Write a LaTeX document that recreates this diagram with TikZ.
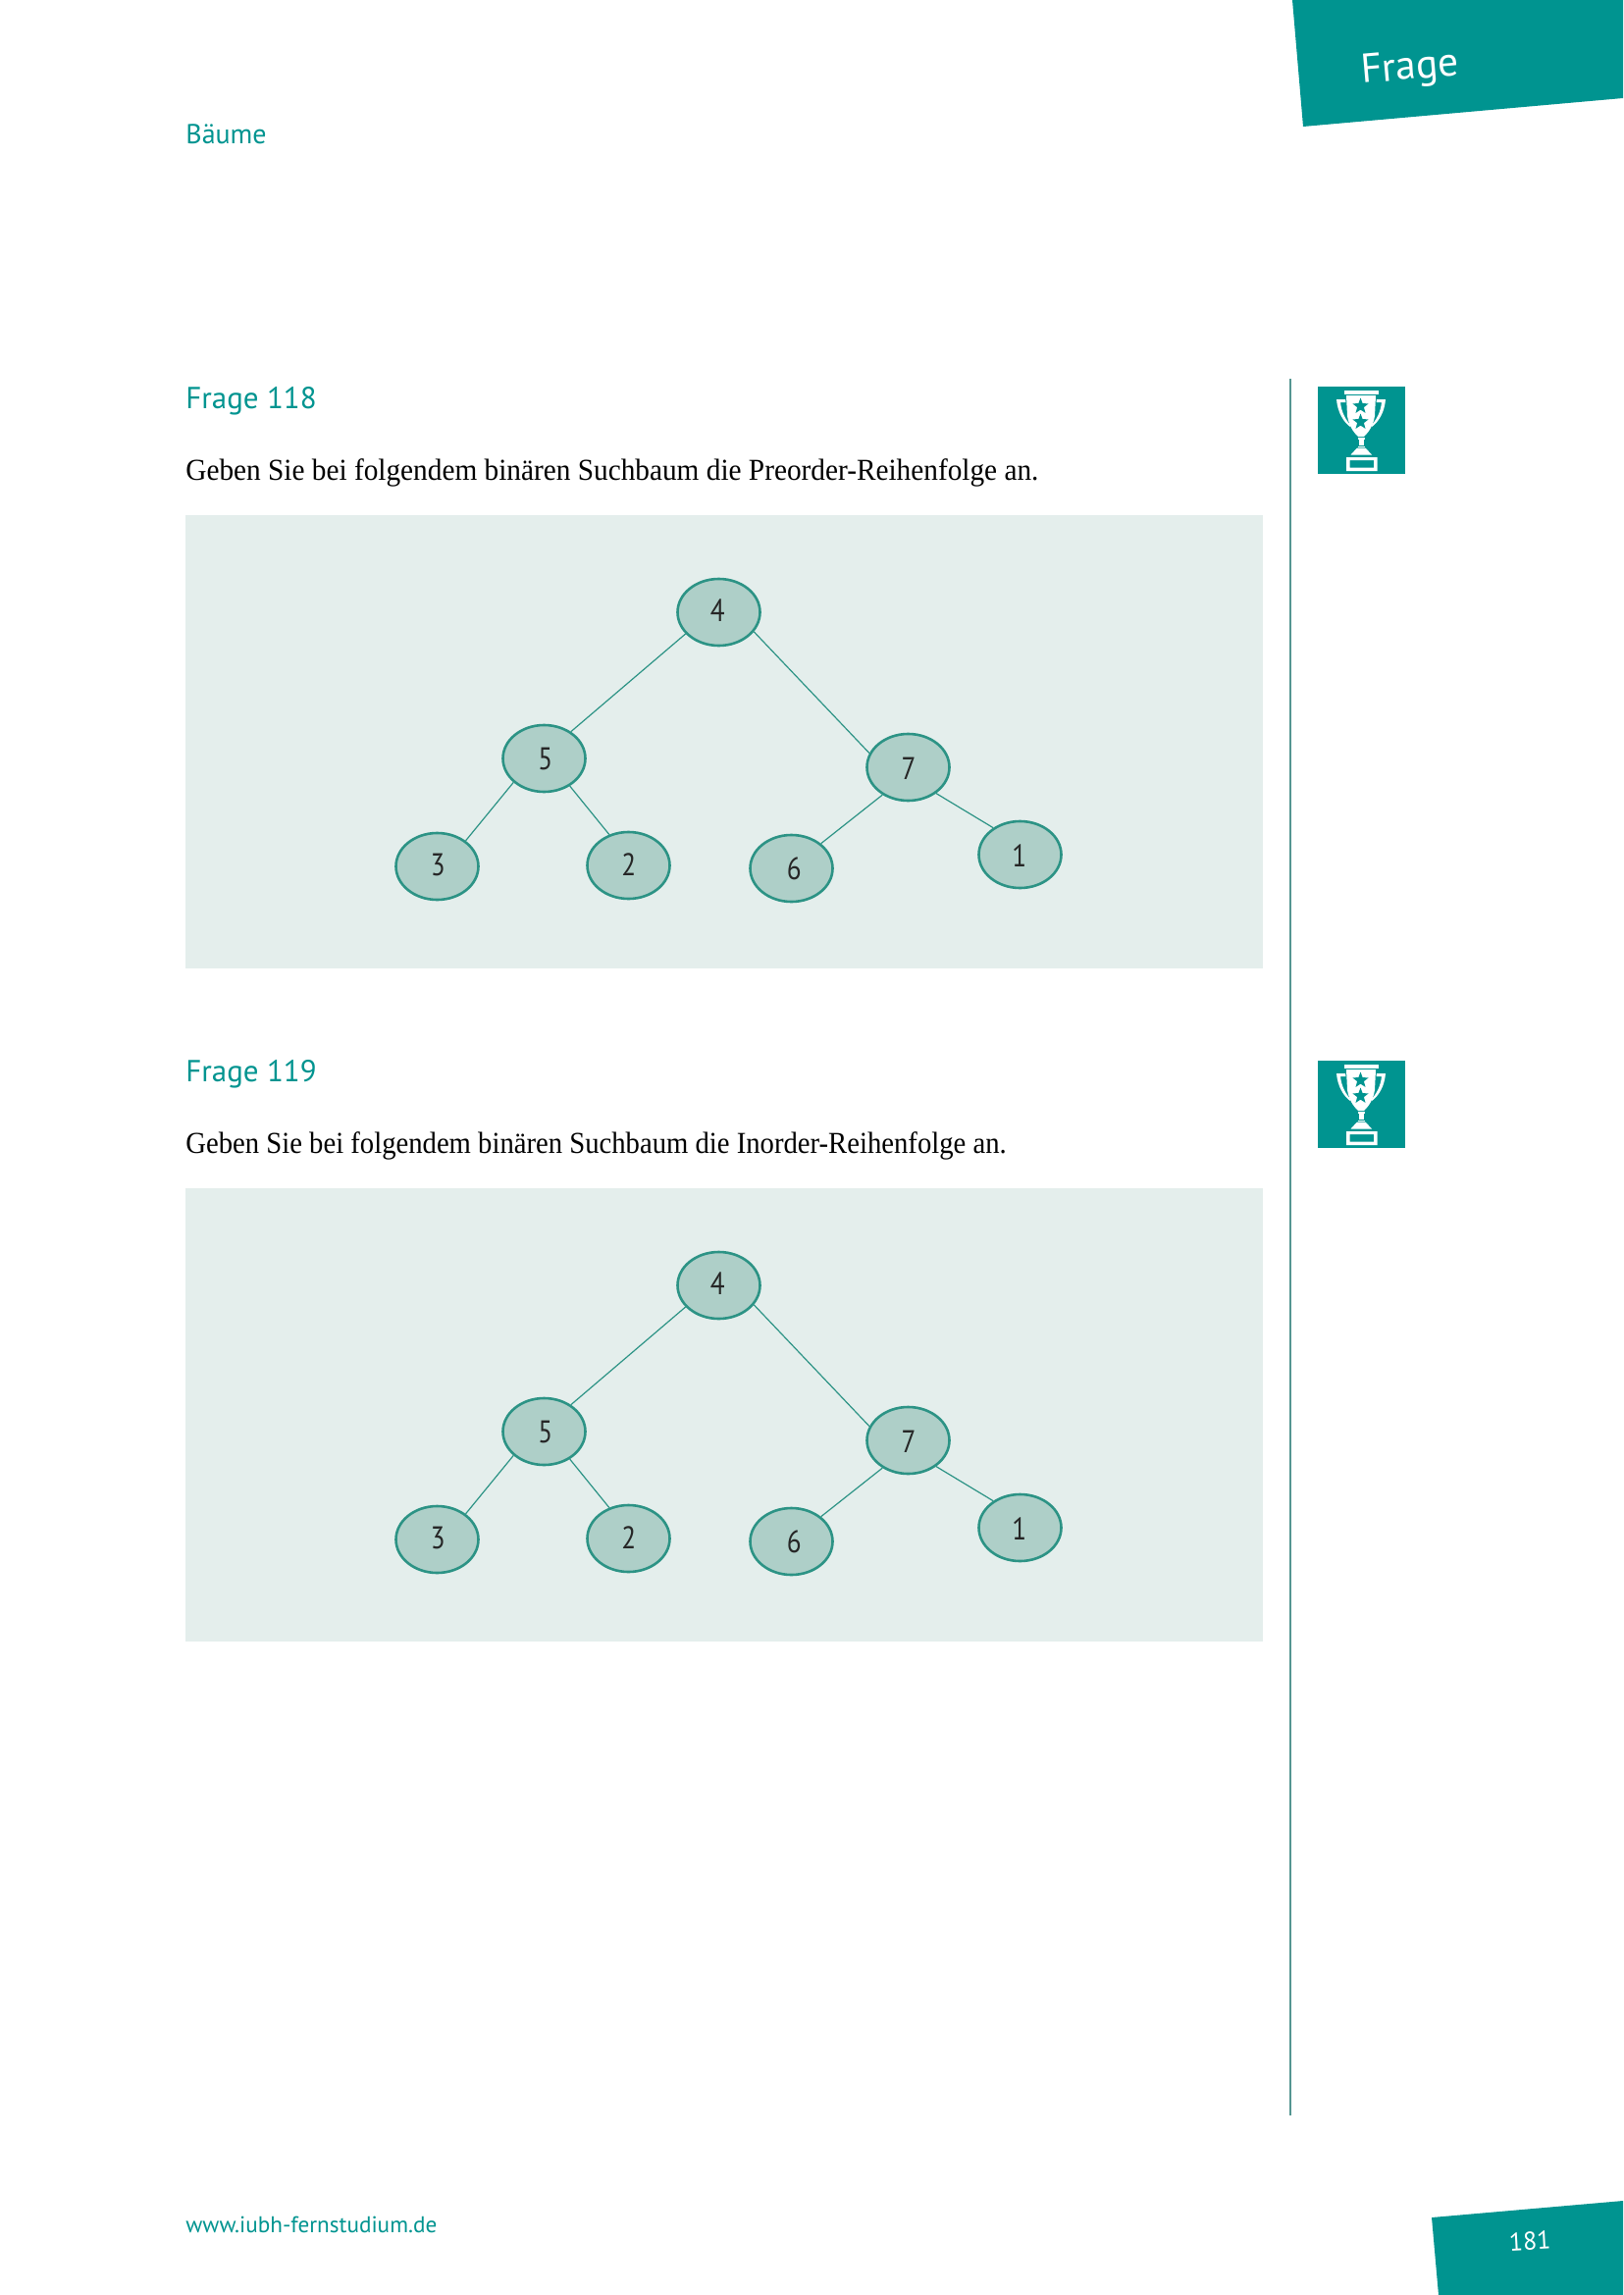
\documentclass[tikz,border=0pt]{standalone}
\usepackage{fontspec}
\setmainfont[FakeStretch=0.945]{Liberation Serif}
\newfontfamily\bodytight[FakeStretch=0.925]{Liberation Serif}
\newfontfamily\din{PT Sans}
\newfontfamily\dinnarrow[FakeStretch=0.85]{PT Sans}
\usetikzlibrary{shapes.geometric}
\definecolor{teal1}{RGB}{0,148,144}
\definecolor{panel}{RGB}{228,238,236}
\definecolor{nodefill}{RGB}{174,207,200}
\definecolor{nodeline}{RGB}{44,147,133}
\definecolor{rulecol}{RGB}{85,150,146}
\tikzset{
  x=0.5pt,y=-0.5pt,
  tree/.style={ellipse,draw=nodeline,line width=1.3pt,fill=nodefill,minimum width=42pt,minimum height=34pt,inner sep=0pt,font=\dinnarrow\fontsize{16}{16}\selectfont,text=black!85},
  edge/.style={draw=nodeline,line width=0.6pt},
  heading/.style={anchor=base west,inner sep=0pt,text=teal1,font=\din\fontsize{15.5}{18}\selectfont},
  body/.style={anchor=base west,inner sep=0pt,text=black,font=\fontsize{15.5}{18}\selectfont},
}
% digit placed with an offset from the ellipse centre (dx, dy in pt, dy up)
\newcommand{\tlab}[3]{\raisebox{\dimexpr-5.5pt+#2pt\relax}[0pt][0pt]{\makebox[0pt][c]{\hspace*{\dimexpr2\dimexpr#1pt\relax\relax}#3}}}
\newcommand{\tstar}[2]{%
\fill[teal1,shift={(#1,#2)}] (0,-8.5) -- (2.1,-2.9) -- (8.1,-2.6) -- (3.4,1.1) -- (5,6.9) -- (0,3.6) -- (-5,6.9) -- (-3.4,1.1) -- (-8.1,-2.6) -- (-2.1,-2.9) -- cycle;}
\newcommand{\trophy}[2]{%
\begin{scope}[shift={(#1,#2)}]
\fill[teal1] (0,0) rectangle (89,89);
\fill[white] (27,4) rectangle (62,7.5);
\fill[white] (29,9) -- (59,9) -- (58,30) .. controls (56,42) and (50,48) .. (47,51) -- (41,51) .. controls (38,48) and (32,42) .. (30,30) -- cycle;
\fill[white] (19,13) -- (28,13) -- (28.5,16) -- (23,16) .. controls (24,26) and (28,33) .. (33,39) -- (33,41) .. controls (26,36) and (20,26) .. (19,13) -- cycle;
\fill[white] (69,13) -- (60,13) -- (59.5,16) -- (65,16) .. controls (64,26) and (60,33) .. (55,39) -- (55,41) .. controls (62,36) and (68,26) .. (69,13) -- cycle;
\fill[white] (41.5,52) rectangle (47,60);
\fill[white] (40.5,52) rectangle (48,53.5);
\fill[white] (41,60.5) rectangle (47.5,62);
\fill[white] (40,62.5) -- (48.5,62.5) -- (55,69.5) -- (33.5,69.5) -- cycle;
\fill[white,even odd rule] (29,72) rectangle (60.5,86) (32.6,75) rectangle (57,82.5);
\tstar{43.5}{20}
\tstar{43.5}{36}
\end{scope}}
\newcommand{\bintree}[1]{%
\begin{scope}[shift={(0,#1)}]
\node[tree] (n4) at (732.5,624) {\tlab{-0.6}{1}{4}};
\node[tree] (n5) at (554.5,773) {\tlab{0.7}{-0.3}{5}};
\node[tree] (n7) at (925.5,782) {\tlab{0.2}{-0.5}{7}};
\node[tree] (n3) at (445.5,883) {\tlab{0.4}{0.8}{3}};
\node[tree] (n2) at (640.5,882) {\tlab{0.2}{0.5}{2}};
\node[tree] (n6) at (806.5,885) {\tlab{1.4}{-0.3}{6}};
\node[tree] (n1) at (1039.5,871) {\tlab{-0.4}{-0.6}{1}};
\draw[edge] (n4.213) -- (n5.45);
\draw[edge] (n4.-29) -- (n7.160);
\draw[edge] (n5.218) -- (n3.42);
\draw[edge] (n5.-47) -- (n2.122);
\draw[edge] (n7.227) -- (n6.40);
\draw[edge] (n7.-43) -- (n1.135);
\end{scope}}
\begin{document}
\begin{tikzpicture}
\useasboundingbox (0,0) rectangle (1654,2339);
\fill[white] (0,0) rectangle (1654,2339);
% header
\fill[teal1] (1317,0) -- (1654,0) -- (1654,100) -- (1328,129) -- cycle;
\node[anchor=base west,inner sep=0pt,text=white,rotate=5,font=\din\fontsize{20.8}{24}\selectfont] (hdr) at (1388,85) {Frage};
\node[heading,font=\din\fontsize{14}{18}\selectfont] (top) at (189,147) {Bäume};
% rule
\draw[rulecol,line width=0.6pt] (1315,386) -- (1315,2156);
% Q1
\node[heading] (q1) at (189,416) {Frage 118};
\node[body] (b1) at (189,489) {Geben Sie bei folgendem binären Suchbaum die Preorder-Reihenfolge an.};
\fill[panel] (189,525) rectangle (1287,987);
\bintree{0}
\trophy{1343}{394}
% Q2
\node[heading] (q2) at (189,1102) {Frage 119};
\node[body,font=\bodytight\fontsize{15.5}{18}\selectfont] (b2) at (189,1175) {Geben Sie bei folgendem binären Suchbaum die Inorder-Reihenfolge an.};
\fill[panel] (189,1211) rectangle (1287,1673);
\bintree{686}
\trophy{1343}{1081}
% footer
\node[anchor=base west,inner sep=0pt,text=teal1,font=\din\fontsize{11.6}{14}\selectfont] (url) at (189,2275) {www.iubh-fernstudium.de};
\fill[teal1] (1459,2260) -- (1654,2243) -- (1654,2339) -- (1466,2339) -- cycle;
\node[anchor=base west,inner sep=0pt,text=white,rotate=3,font=\din\fontsize{13}{15}\selectfont] (pg) at (1538,2294) {181};
\end{tikzpicture}
\end{document}
